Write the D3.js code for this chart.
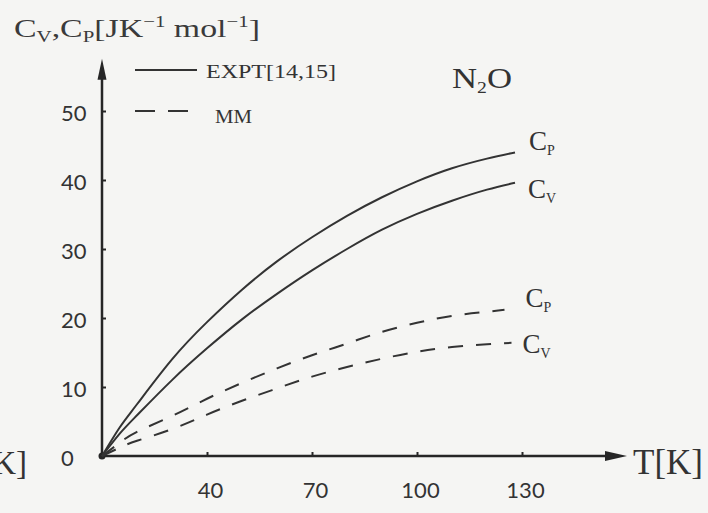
<!DOCTYPE html>
<html>
<head>
<meta charset="utf-8">
<script src="https://cdn.jsdelivr.net/npm/d3@7"></script>
<style>
	body { margin: 0; background: #f5f5f3; }
	#chart-area { width: 708px; height: 513px; }
	.serif { font-family: "Liberation Serif", "DejaVu Serif", serif; fill: #333; }
	.num text { font-family: Lato, "Open Sans", sans-serif; font-size: 22px; fill: #333; }
</style>
</head>
<body>
<div id="chart-area"></div>
<script>

// values
const tempExpt = [10, 15, 20, 30, 40, 50, 60, 70, 80, 90, 100, 110, 120, 128];
const cpExpt = [0, 4.1, 7.5, 14.0, 19.4, 24.1, 28.2, 31.7, 34.8, 37.5, 39.8, 41.7, 43.1, 44.0];
const cvExpt = [0, 3.2, 5.9, 11.0, 15.6, 19.8, 23.5, 26.9, 30.0, 32.8, 35.1, 37.0, 38.6, 39.6];

const tempCpMM = [10, 15, 20, 30, 40, 50, 60, 70, 80, 90, 100, 110, 120, 125];
const cpMM = [0, 1.9, 3.5, 5.8, 8.3, 10.6, 12.7, 14.6, 16.3, 18.0, 19.3, 20.3, 20.9, 21.2];

const tempCvMM = [10, 15, 20, 30, 40, 50, 60, 70, 80, 90, 100, 110, 120, 127];
const cvMM = [0, 1.2, 2.2, 3.9, 6.0, 8.0, 9.8, 11.5, 12.9, 14.1, 15.1, 15.8, 16.2, 16.4];

const xTicks = [40, 70, 100, 130];
const yTicks = [0, 10, 20, 30, 40, 50];

const width = 708;
const height = 513;

const svg = d3.select('#chart-area')
	.append('svg')
	.attr('width', width)
	.attr('height', height);

// Scales
const x = d3.scaleLinear()
	.domain([10, 160])
	.range([102, 627]);

const y = d3.scaleLinear()
	.domain([0, 57])
	.range([456, 456 - 57 * 6.9]);

const ink = '#262626';

// X axis
const xAxis = svg.append('g')
	.attr('class', 'num')
	.attr('transform', `translate(0, ${y(0)})`)
	.call(d3.axisBottom(x).tickValues(xTicks).tickSize(-4).tickPadding(26));
xAxis.select('.domain').remove();
xAxis.selectAll('line').attr('stroke', ink).attr('stroke-width', 2);
xAxis.selectAll('text').attr('dx', 3);

// Y axis
const yAxis = svg.append('g')
	.attr('class', 'num')
	.attr('transform', `translate(${x(10)}, 0)`)
	.call(d3.axisLeft(y).tickValues(yTicks).tickSize(-4));
yAxis.select('.domain').remove();
yAxis.selectAll('line').attr('stroke', ink).attr('stroke-width', 2);
yAxis.selectAll('text')
	.attr('text-anchor', 'start')
	.attr('x', -41)
	.attr('dy', '0.45em');
yAxis.selectAll('.tick').filter((d) => d === 0).select('line').remove();

// axis lines with arrows
const x0 = x(10), y0 = y(0);
const xEnd = x.range()[1], yEnd = y.range()[1] - 4;
svg.append('line')
	.attr('x1', x0).attr('y1', y0)
	.attr('x2', xEnd - 18).attr('y2', y0)
	.attr('stroke', ink).attr('stroke-width', 2.5);
svg.append('path')
	.attr('d', `M${xEnd},${y0} L${xEnd - 22},${y0 - 5} L${xEnd - 22},${y0 + 5} Z`)
	.attr('fill', ink);
svg.append('line')
	.attr('x1', x0).attr('y1', y0)
	.attr('x2', x0).attr('y2', yEnd + 18)
	.attr('stroke', ink).attr('stroke-width', 2.5);
svg.append('path')
	.attr('d', `M${x0},${yEnd} L${x0 - 4.5},${yEnd + 21} L${x0 + 4.5},${yEnd + 21} Z`)
	.attr('fill', ink);
svg.append('circle')
	.attr('cx', x0).attr('cy', y0).attr('r', 3.5)
	.attr('fill', ink);

// Curves
const series = [
	{ t: tempExpt, v: cpExpt, dash: null, sub: 'P', dx: 14, dy: -2 },
	{ t: tempExpt, v: cvExpt, dash: null, sub: 'V', dx: 13, dy: 15 },
	{ t: tempCpMM, v: cpMM, dash: '15,13', sub: 'P', dx: 21, dy: -3 },
	{ t: tempCvMM, v: cvMM, dash: '15,13', sub: 'V', dx: 11, dy: 10 }
];

const line = d3.line()
	.x((d) => x(d[0]))
	.y((d) => y(d[1]))
	.curve(d3.curveNatural);

series.forEach((s) => {
	const pts = s.t.map((t, i) => [t, s.v[i]]);
	svg.append('path')
		.attr('d', line(pts))
		.attr('fill', 'none')
		.attr('stroke', '#333')
		.attr('stroke-width', 2)
		.attr('stroke-dasharray', s.dash);

	const last = pts[pts.length - 1];
	const lab = svg.append('text')
		.attr('class', 'serif')
		.attr('x', x(last[0]) + s.dx)
		.attr('y', y(last[1]) + s.dy)
		.attr('font-size', 27);
	lab.append('tspan').text('C');
	lab.append('tspan').attr('font-size', 14).attr('dy', 5).text(s.sub);
});

// Legend
svg.append('line')
	.attr('x1', 135).attr('x2', 197).attr('y1', 70).attr('y2', 70)
	.attr('stroke', '#333').attr('stroke-width', 2);
svg.append('text')
	.attr('class', 'serif')
	.attr('x', 206).attr('y', 78)
	.attr('font-size', 19)
	.attr('textLength', 130)
	.attr('lengthAdjust', 'spacingAndGlyphs')
	.text('EXPT[14,15]');
svg.append('line')
	.attr('x1', 135).attr('x2', 188).attr('y1', 111).attr('y2', 111)
	.attr('stroke', '#333').attr('stroke-width', 2)
	.attr('stroke-dasharray', '20,13');
svg.append('text')
	.attr('class', 'serif')
	.attr('x', 215).attr('y', 123)
	.attr('font-size', 19)
	.attr('textLength', 37)
	.attr('lengthAdjust', 'spacingAndGlyphs')
	.text('MM');

// Title
const title = svg.append('text')
	.attr('class', 'serif')
	.attr('x', 14).attr('y', 37)
	.attr('font-size', 26)
	.style('fill', '#3a3a3a')
	.attr('textLength', 246)
	.attr('lengthAdjust', 'spacingAndGlyphs');
title.append('tspan').text('C');
title.append('tspan').attr('font-size', 16).attr('dy', 5).text('V');
title.append('tspan').attr('dy', -5).text(',C');
title.append('tspan').attr('font-size', 16).attr('dy', 5).text('P');
title.append('tspan').attr('dy', -5).text('[JK');
title.append('tspan').attr('font-size', 16).attr('dy', -10).text('−1');
title.append('tspan').attr('dy', 10).text(' mol');
title.append('tspan').attr('font-size', 16).attr('dy', -10).text('−1');
title.append('tspan').attr('dy', 10).text(']');

// N2O
const gas = svg.append('text')
	.attr('class', 'serif')
	.attr('x', 452).attr('y', 88)
	.attr('font-size', 30)
	.attr('textLength', 60)
	.attr('lengthAdjust', 'spacingAndGlyphs');
gas.append('tspan').text('N');
gas.append('tspan').attr('font-size', 17).attr('dy', 5).text('2');
gas.append('tspan').attr('dy', -5).text('O');

// axis names
svg.append('text')
	.attr('class', 'serif')
	.attr('x', xEnd + 6).attr('y', y0 + 18)
	.attr('font-size', 35)
	.text('T[K]');
svg.append('text')
	.attr('class', 'serif')
	.attr('x', 27).attr('y', y0 + 18)
	.attr('text-anchor', 'end')
	.attr('font-size', 33)
	.text('[K]');

</script>
</body>
</html>
